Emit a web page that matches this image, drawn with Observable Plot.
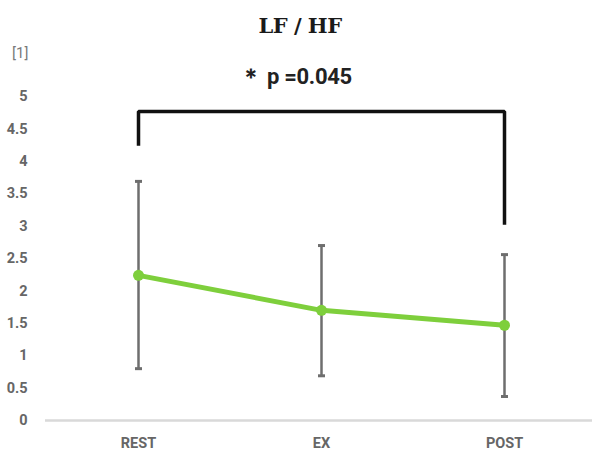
<!DOCTYPE html>
<html>
<head>
<meta charset="utf-8">
<script src="https://cdn.jsdelivr.net/npm/d3@7"></script>
<script src="https://cdn.jsdelivr.net/npm/@observablehq/plot@0.6"></script>
<style>
  html, body { margin: 0; padding: 0; background: #fff; }
  #wrap { position: relative; width: 592px; height: 456px; overflow: hidden; }
  #wrap svg { position: absolute; left: 0; top: 0; }
  .title { position: absolute; left: 4px; width: 592px; text-align: center; top: 13px;
           font-family: "DejaVu Serif", "Liberation Serif", serif; font-weight: bold; font-size: 21px; color: #1a1a1a; letter-spacing: -0.5px; }
  .unit { position: absolute; left: 12px; top: 44px; font-family: Roboto, sans-serif;
          font-size: 15px; color: #7a7a7a; }
  .sig { position: absolute; left: 0; width: 592px; text-align: center; top: 62px;
         font-family: Roboto, sans-serif; font-weight: bold; font-size: 22px; color: #222; letter-spacing: -0.3px; }
</style>
</head>
<body>
<div id="wrap">
  <div class="title">LF / HF</div>
  <div class="unit">[1]</div>
  <div class="sig">＊ p =0.045</div>
</div>
<script>
const categories = ["REST", "EX", "POST"];
const means = [2.24, 1.70, 1.47];
const upper = [3.69, 2.70, 2.56];
const lower = [0.80, 0.69, 0.37];
const yTicks = [0, 0.5, 1, 1.5, 2, 2.5, 3, 3.5, 4, 4.5, 5];
const yTickLabels = ["0", "0.5", "1", "1.5", "2", "2.5", "3", "3.5", "4", "4.5", "5"];
const bracketX = ["REST", "REST", "POST", "POST"];
const bracketY = [4.24, 4.77, 4.77, 3.02];

const data = categories.map((c, i) => ({cat: c, mean: means[i], hi: upper[i], lo: lower[i]}));
const bracket = bracketX.map((x, i) => ({x, y: bracketY[i]}));
const caps = data.flatMap(d => [{cat: d.cat, y: d.hi}, {cat: d.cat, y: d.lo}]);

const capSymbol = {
  draw(context, size) {
    context.moveTo(-3.5, -1.5);
    context.lineTo(3.5, -1.5);
    context.lineTo(3.5, 1.5);
    context.lineTo(-3.5, 1.5);
    context.closePath();
  }
};

const font = 'Roboto, sans-serif';

const chart = Plot.plot({
  width: 592,
  height: 456,
  marginLeft: 45,
  marginRight: 0,
  marginTop: 96,
  marginBottom: 36,
  style: {fontFamily: font, background: "transparent"},
  x: {type: "point", domain: categories, range: [137, 504], padding: 0},
  y: {domain: [0, 5]},
  marks: [
    Plot.ruleY([0], {stroke: "#d9d9d9", strokeWidth: 2.5}),
    Plot.axisY({ticks: yTicks, tickFormat: (d) => yTickLabels[yTicks.indexOf(d)], tickSize: 0, tickPadding: 18,
                fontSize: 14.5, fill: "#666", fontWeight: "bold", label: null}),
    Plot.axisX({tickSize: 0, tickPadding: 17, fontSize: 14.5, fill: "#666", fontWeight: "bold", label: null}),
    Plot.line(bracket, {x: "x", y: "y", stroke: "#111", strokeWidth: 3.5, strokeLinejoin: "miter", strokeLinecap: "butt"}),
    Plot.ruleX(data, {x: "cat", y1: "lo", y2: "hi", stroke: "#6e6e6e", strokeWidth: 2.5}),
    Plot.dot(caps, {x: "cat", y: "y", symbol: capSymbol, fill: "#6e6e6e", stroke: "none", r: 3}),
    Plot.line(data, {x: "cat", y: "mean", stroke: "#7ecf3c", strokeWidth: 5}),
    Plot.dot(data, {x: "cat", y: "mean", fill: "#7ecf3c", r: 5.5})
  ]
});
document.getElementById("wrap").appendChild(chart);
</script>
</body>
</html>
